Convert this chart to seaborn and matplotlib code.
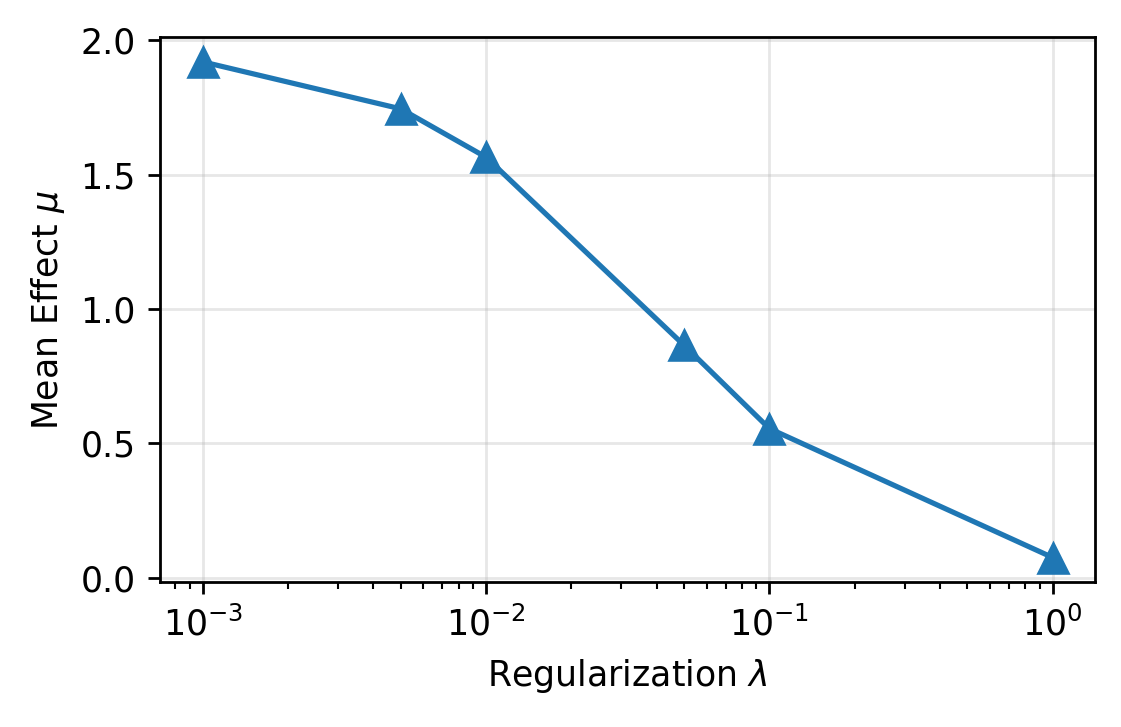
import matplotlib
matplotlib.use("Agg")
import matplotlib.pyplot as plt
import pandas as pd
import seaborn as sns

lambdas = [1e-3, 5e-3, 1e-2, 5e-2, 1e-1, 1.0]
mean_effect = [1.92, 1.745, 1.565, 0.865, 0.555, 0.075]

df = pd.DataFrame({"lam": lambdas, "mu": mean_effect})

DPI = 250
fig, ax = plt.subplots(figsize=(1121 / DPI, 727 / DPI), dpi=DPI)
fig.subplots_adjust(left=0.143, right=0.977, top=0.949, bottom=0.199)

sns.lineplot(
    data=df, x="lam", y="mu", ax=ax,
    marker="^", markersize=8.6, linewidth=1.5, color="#1f77b4",
    markeredgecolor="#1f77b4",
)
ax.set_xscale("log")
ax.set_xlabel(r"Regularization $\lambda$")
ax.set_ylabel(r"Mean Effect $\mu$")
ax.grid(True, alpha=0.3)

fig.savefig("out.png", dpi=DPI)
plt.close(fig)
